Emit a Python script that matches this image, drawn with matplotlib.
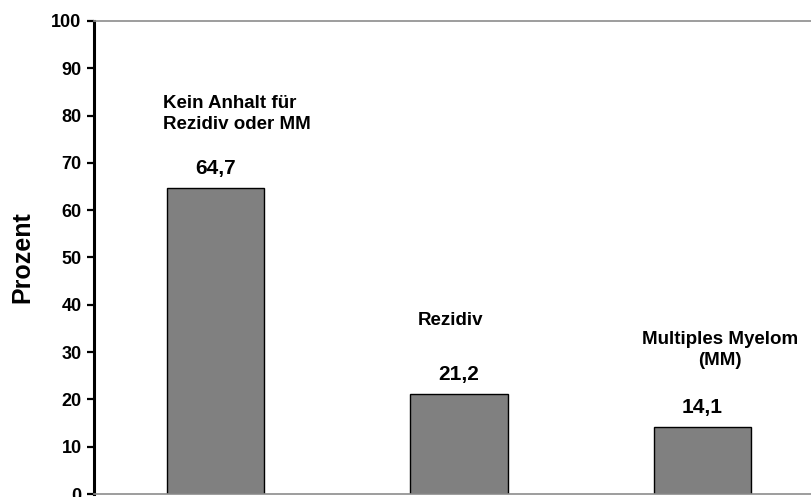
import matplotlib.pyplot as plt

plt.rcParams['font.family'] = ['Liberation Sans', 'DejaVu Sans']
plt.rcParams['font.weight'] = 'bold'

# Ergebnisse der Nachbeobachtung (Prozent)
categories = ["Kein Anhalt für\nRezidiv oder MM", "Rezidiv", "Multiples Myelom\n(MM)"]
values = [64.7, 21.2, 14.1]
value_labels = ["64,7", "21,2", "14,1"]
yticks = list(range(0, 101, 10))

fig = plt.figure(figsize=(8.12, 4.97), dpi=100)
ax = fig.add_axes([0.1158, 0.006, 0.8842, 0.952])

x = range(len(values))
bars = ax.bar(x, values, width=0.4, color='#808080', edgecolor='black', linewidth=1.0)

ax.set_xlim(-0.5, 2.45)
ax.set_ylim(0, 100)
ax.set_yticks(yticks)
ax.set_yticklabels([str(t) for t in yticks], fontsize=13, fontweight='bold')
ax.set_xticks([])
ax.tick_params(axis='y', length=5, width=1.6, pad=4)

ax.spines['left'].set_linewidth(2.2)
ax.spines['left'].set_color('black')
for side in ['top', 'bottom']:
    ax.spines[side].set_color('#8c8c8c')
    ax.spines[side].set_linewidth(1.2)
ax.spines['right'].set_visible(False)

ax.set_ylabel('Prozent', fontsize=18, fontweight='bold', labelpad=12)

# Zahlenwerte über den Balken
for bar, lab in zip(bars, value_labels):
    ax.annotate(lab, (bar.get_x() + bar.get_width() / 2, bar.get_height()),
                textcoords='offset points', xytext=(0, 14), ha='center', va='center',
                fontsize=15, fontweight='bold')

# Beschriftungen der Kategorien
ax.text(-0.217, 80.4, categories[0], ha='left', va='center', fontsize=13.5,
        fontweight='bold', linespacing=1.3)
ax.text(0.966, 36.6, categories[1], ha='center', va='center', fontsize=13.5,
        fontweight='bold')
ax.text(2.071, 30.4, categories[2], ha='center', va='center', fontsize=13.5,
        fontweight='bold', linespacing=1.3)

fig.savefig('out.png', dpi=100)
